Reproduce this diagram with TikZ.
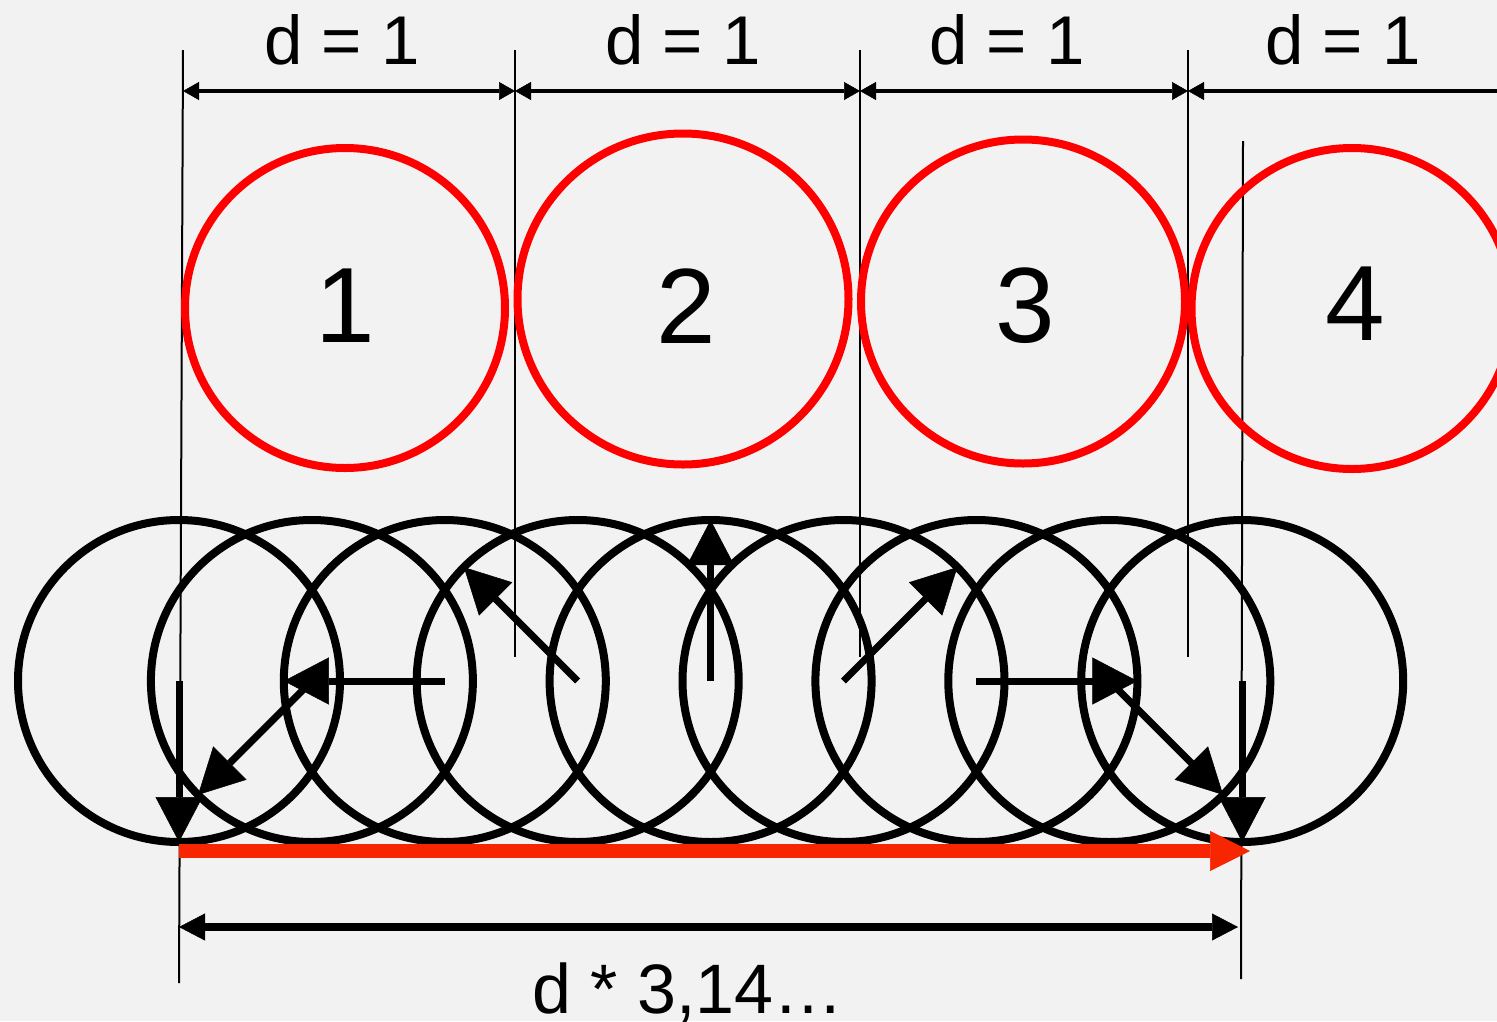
\documentclass[tikz,border=0pt]{standalone}
\usepackage{fontspec}
\setmainfont{Liberation Sans}
\usetikzlibrary{arrows.meta}
\definecolor{bgcol}{HTML}{F2F2F2}
\definecolor{ringred}{HTML}{FF0000}
\definecolor{arrred}{RGB}{247,38,0}
\begin{document}
\begin{tikzpicture}[x=1pt,y=-1pt,
  blackring/.style={circle, draw=black, line width=8pt, minimum size=322pt, inner sep=0pt, outer sep=0pt},
  redring/.style={circle, draw=ringred, line width=8pt, inner sep=0pt, outer sep=0pt},
  extline/.style={draw=black, line width=2pt},
  dimarrow/.style={line width=4pt, {Triangle[length=16pt,width=18pt,line width=0.5pt]}-{Triangle[length=16pt,width=18pt,line width=0.5pt]}},
  dimarrowleft/.style={line width=4pt, {Triangle[length=16pt,width=18pt,line width=0.5pt]}-},
  radarrow/.style={line width=7pt, -{Triangle[length=45pt,width=47pt,line width=0.5pt]}},
  bigdim/.style={line width=8pt, {Triangle[length=26pt,width=27pt,line width=0.5pt]}-{Triangle[length=26pt,width=27pt,line width=0.5pt]}},
  redarrow/.style={draw=arrred, line width=13.5pt, -{Triangle[length=40pt,width=40pt,line width=0.5pt]}},
  dimlabel/.style={font=\fontsize{69}{80}\selectfont, anchor=base, inner sep=0pt},
  numlabel/.style={font=\fontsize{107}{120}\selectfont, anchor=base, inner sep=0pt}
]
\useasboundingbox (0,0) rectangle (1497,1021);
\fill[bgcol] (0,0) rectangle (1497,1021);
\clip (0,0) rectangle (1497,1021);

% extension lines
\coordinate (e1t) at (183,50);   \coordinate (e1b) at (179,983);
\coordinate (e2t) at (515,50);   \coordinate (e2b) at (515,657);
\coordinate (e3t) at (860,50);   \coordinate (e3b) at (860,657);
\coordinate (e4t) at (1188,50);  \coordinate (e4b) at (1188,657);
\coordinate (e5t) at (1243,141); \coordinate (e5b) at (1241,979);
\draw[extline] (e1t) -- (e1b);
\draw[extline] (e2t) -- (e2b);
\draw[extline] (e3t) -- (e3b);
\draw[extline] (e4t) -- (e4b);
\draw[extline] (e5t) -- (e5b);

% top dimensions
\coordinate (d1) at (183,91);
\coordinate (d2) at (515,91);
\coordinate (d3) at (860,91);
\coordinate (d4) at (1188,91);
\coordinate (d5) at (1520,91);
\draw[dimarrow] (d1) -- (d2);
\draw[dimarrow] (d2) -- (d3);
\draw[dimarrow] (d3) -- (d4);
\draw[dimarrowleft] (d4) -- (d5);
\node[dimlabel] (l1) at (342,64) {d = 1};
\node[dimlabel] (l2) at (683,64) {d = 1};
\node[dimlabel] (l3) at (1007,64) {d = 1};
\node[dimlabel] (l4) at (1343,64) {d = 1};

% red circles
\node[redring, minimum size=320pt] (r1) at (345,308) {};
\node[redring, minimum size=331pt] (r2) at (683,299) {};
\node[redring, minimum size=324pt] (r3) at (1023,301.5) {};
\node[redring, minimum size=321pt] (r4) at (1352,308.5) {};
\node[numlabel] (n1) at (345,342) {1};
\node[numlabel] (n2) at (686,343) {2};
\node[numlabel] (n3) at (1025,342) {3};
\node[numlabel] (n4) at (1355,340) {4};

% rolling black circles
\foreach \i in {0,...,8} {
  \node[blackring] (c\i) at (179+132.9*\i,681) {};
}

% red travel arrow
\coordinate (ra) at (179,851);
\coordinate (rb) at (1250,851);
\draw[redarrow] (ra) -- (rb);

% radius arrows
\draw[radarrow] (c0.center) -- (c0.-90);
\draw[radarrow] (c1.center) -- (c1.225);
\draw[radarrow] (c2.center) -- (c2.180);
\draw[radarrow] (c3.center) -- (c3.135);
\draw[radarrow] (c4.center) -- (c4.90);
\draw[radarrow] (c5.center) -- (c5.45);
\draw[radarrow] (c6.center) -- (c6.0);
\draw[radarrow] (c7.center) -- (c7.-45);
\draw[radarrow] (c8.center) -- (c8.-90);

% bottom dimension
\coordinate (b1) at (179,927);
\coordinate (b2) at (1238,927);
\draw[bigdim] (b1) -- (b2);
\node[dimlabel, font=\fontsize{70}{80}\selectfont] (lb) at (688,1013) {d * 3,14…};
\end{tikzpicture}
\end{document}
